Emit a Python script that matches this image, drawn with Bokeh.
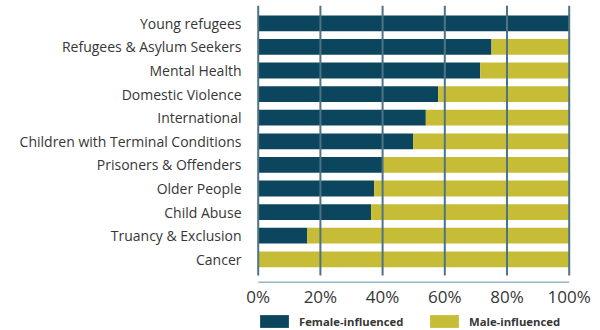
from bokeh.plotting import figure
from bokeh.models import (ColumnDataSource, Range1d, FixedTicker, Legend, LegendItem)
from bokeh.core.properties import value
from bokeh.embed import file_html
from bokeh.resources import INLINE

categories = ["Young refugees", "Refugees & Asylum Seekers", "Mental Health",
              "Domestic Violence", "International", "Children with Terminal Conditions",
              "Prisoners & Offenders", "Older People", "Child Abuse",
              "Truancy & Exclusion", "Cancer"]
female = [100, 75, 71.4, 57.9, 53.9, 49.8, 40, 37.3, 36.3, 15.8, 0]
male = [0, 25, 28.6, 42.1, 46.1, 50.2, 60, 62.7, 63.7, 84.2, 100]
x_ticks = [0, 20, 40, 60, 80, 100]
x_tick_labels = ["0%", "20%", "40%", "60%", "80%", "100%"]
series_names = ["Female-influenced", "Male-influenced"]

DARK = "#0c465e"
YELLOW = "#c7bc35"
GRID = "#4e7385"
AXIS = "#9bb4c4"
TEXT = "#363636"
FONT = "Open Sans"

n = len(categories)
ypos = [n - 1 - i for i in range(n)]
src = ColumnDataSource(dict(y=ypos, cat=categories, female=female, male=male))

# vertical layout in category units (one band = one unit)
y_top = (n - 1) + 0.754
y_bottom = -3.017
grid_bottom = -0.686
axis_y = -0.970
label_y = -1.576

p = figure(width=600, height=330, output_backend="svg", toolbar_location=None,
           x_range=Range1d(-4.405, 109.42), y_range=Range1d(y_bottom, y_top),
           min_border_left=244, min_border_right=2, min_border_top=5,
           min_border_bottom=0)
p.outline_line_color = None
p.background_fill_color = None
p.border_fill_color = None
p.xgrid.visible = False
p.ygrid.visible = False
p.xaxis.visible = False

rs = p.hbar_stack(["female", "male"], y="y", height=0.67, color=[DARK, YELLOW],
                  line_color=None, source=src)

# vertical gridlines drawn over the bars
gsrc = ColumnDataSource(dict(x=x_ticks, y0=[y_top] * len(x_ticks),
                             y1=[grid_bottom] * len(x_ticks),
                             ly=[label_y] * len(x_ticks), label=x_tick_labels))
p.segment(x0="x", x1="x", y0="y0", y1="y1", line_color=GRID, line_width=2,
          source=gsrc)

# x axis line and tick labels
p.segment(x0=[x_ticks[0]], x1=[x_ticks[-1]], y0=[axis_y], y1=[axis_y],
          line_color=AXIS, line_width=1.5)
p.text(x="x", y="ly", text="label", source=gsrc, text_align="center",
       text_baseline="middle", text_font=value(FONT), text_font_size="17px",
       text_color=TEXT)

# y axis
ya = p.yaxis[0]
ya.ticker = FixedTicker(ticks=ypos)
ya.major_label_overrides = {y: c for y, c in zip(ypos, categories)}
ya.axis_line_color = None
ya.major_tick_line_color = None
ya.minor_tick_line_color = None
ya.major_label_standoff = -3
ya.major_label_text_font = FONT
ya.major_label_text_font_size = "14px"
ya.major_label_text_color = TEXT

legend = Legend(items=[LegendItem(label=series_names[0], renderers=[rs[0]]),
                       LegendItem(label=series_names[1], renderers=[rs[1]])],
                orientation="horizontal", location=(12, 1),
                glyph_width=36, glyph_height=16, label_standoff=7, spacing=18,
                label_width=109, padding=0, margin=0, border_line_color=None,
                background_fill_alpha=0, label_text_font=FONT,
                label_text_font_style="bold", label_text_font_size="11.3px",
                label_text_color=TEXT)
p.add_layout(legend, "center")

open("out.html", "w").write(file_html(p, INLINE))
